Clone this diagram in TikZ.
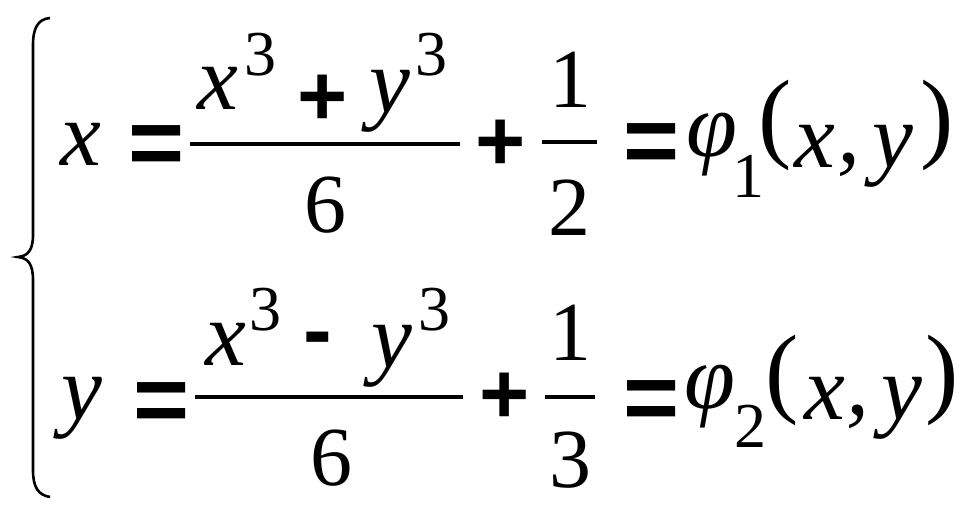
\documentclass[tikz,border=0pt]{standalone}
\usepackage{fontspec}
\setmainfont{Liberation Serif}
\newfontfamily\opfont{Liberation Sans}
\begin{document}
\begin{tikzpicture}[x=1pt,y=-1pt,
    vname/.style={anchor=north,inner sep=0pt,font=\itshape\fontsize{92}{92}\selectfont},
    dig/.style={anchor=north,inner sep=0pt,font=\fontsize{84}{84}\selectfont},
    ex/.style={anchor=north,inner sep=0pt,font=\fontsize{64}{64}\selectfont},
    op/.style={anchor=north,inner sep=0pt,font=\opfont\bfseries\fontsize{86}{86}\selectfont},
    eqs/.style={anchor=north,inner sep=0pt,font=\opfont\bfseries\fontsize{96}{96}\selectfont},
    par/.style={anchor=north,inner sep=0pt,font=\fontsize{100}{100}\selectfont},
    fracbar/.style={line width=3.2pt}]
  \useasboundingbox (0,0) rectangle (971,515);
  % brace
  \draw[line width=2.6pt] (50,18) .. controls (38,19) and (33,28) .. (33,45) -- (33,235)
    .. controls (33,250) and (28,256) .. (18,257) .. controls (28,258) and (33,264) .. (33,280)
    -- (33,470) .. controls (33,487) and (38,495) .. (50,497);
  % first line
  \draw
    (81,123) node[vname] (lx1){x}
    (157,125) node[eqs] (eq1){=}
    (218,67) node[vname] (nx1){x}
    (260,33) node[ex] (nxe1){3}
    (323,75) node[op] (np1){+}
    (390,70) node[vname] (ny1){y}
    (431,33) node[ex] (nye1){3}
    (325,177) node[dig] (dn1){6}
    (501,120) node[op] (pl1){+}
    (570,52) node[dig] (on1){1}
    (569,180) node[dig] (tw1){2}
    (652,123) node[eqs] (eq2){=}
    (712,113) node[vname] (phi1){φ}
    (748,155) node[ex] (sb1){1}
    (775,80) node[par] (lp1){(}
    (815,125) node[vname] (ax1){x}
    (849,153) node[vname] (cm1){,}
    (893,125) node[vname] (ay1){y}
    (937,80) node[par] (rp1){)};
  \draw[fracbar] (190,144) -- (460,144);
  \draw[fracbar] (542,142) -- (597,142);
  % second line
  \draw
    (82,377) node[vname] (ly2){y}
    (162,382) node[eqs] (eq3){=}
    (226,323) node[vname] (nx2){x}
    (265,288) node[ex] (nxe2){3}
    (318,332) node[op] (nm2){-}
    (392,325) node[vname] (ny2){y}
    (434,288) node[ex] (nye2){3}
    (331,430) node[dig] (dn2){6}
    (505,373) node[op] (pl2){+}
    (570,305) node[dig] (on2){1}
    (570,432) node[dig] (th2){3}
    (652,380) node[eqs] (eq4){=}
    (710,365) node[vname] (phi2){φ}
    (750,405) node[ex] (sb2){2}
    (782,335) node[par] (lp2){(}
    (825,377) node[vname] (ax2){x}
    (858,405) node[vname] (cm2){,}
    (902,377) node[vname] (ay2){y}
    (942,335) node[par] (rp2){)};
  \draw[fracbar] (195,397) -- (463,397);
  \draw[fracbar] (545,397) -- (595,397);
\end{tikzpicture}
\end{document}
